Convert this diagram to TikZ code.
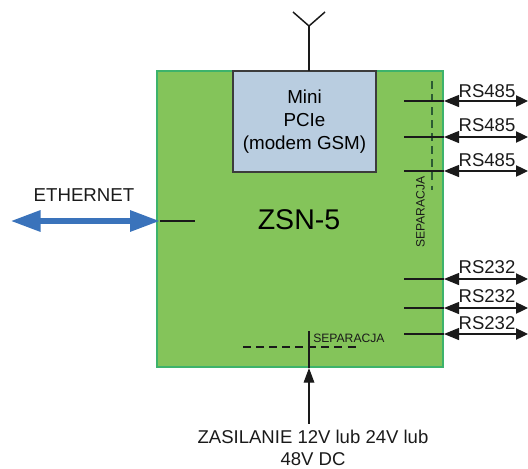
\documentclass[tikz,border=0pt]{standalone}
\usepackage{fontspec}
\setmainfont{Liberation Sans}
\usetikzlibrary{arrows.meta}
\definecolor{boardgreen}{HTML}{84C45A}
\definecolor{boardedge}{HTML}{3DB36B}
\definecolor{modblue}{HTML}{B9CDE0}
\definecolor{ethblue}{HTML}{3A73BB}
\definecolor{inkblack}{HTML}{1A1A1A}
\definecolor{sepgreen}{HTML}{2C5A34}
\tikzset{
  board/.style={draw=boardedge,fill=boardgreen,line width=1pt,minimum width=214.5pt,minimum height=222pt,inner sep=0pt},
  modem/.style={draw=inkblack!85,fill=modblue,line width=1pt,minimum width=107.25pt,minimum height=75.75pt,inner sep=0pt,align=center,font=\fontsize{14.1pt}{17pt}\selectfont},
  wire/.style={draw=inkblack,line width=0.9pt},
  sep/.style={draw=inkblack,line width=0.8pt,dash pattern=on 6pt off 3.8pt},
  bus/.style={draw=inkblack,line width=0.9pt,{Triangle[length=11.25pt,width=9pt]}-{Triangle[length=9pt,width=8.5pt]}},
  lab/.style={inner sep=0pt,font=\fontsize{13.9pt}{16pt}\selectfont,text=inkblack},
  small/.style={inner sep=0pt,font=\fontsize{9.1pt}{11pt}\selectfont,text=inkblack},
}
\begin{document}
\begin{tikzpicture}[x=0.75pt,y=-0.75pt]
\useasboundingbox (0,0) rectangle (528,468);
\node[board] (brd) at (300,219) {};
\node[modem] (mod) at (304.5,121.5) {Mini\\PCIe\\(modem GSM)};
\node[inner sep=0pt,font=\fontsize{21.4pt}{24pt}\selectfont] (zsn) at (299,220) {ZSN-5};

% antenna
\coordinate (antbase) at (309,71);
\coordinate (anttop) at (309,26);
\coordinate (antl) at (293,12);
\coordinate (antr) at (325,12);
\draw[wire,line width=1.1pt] (antbase) -- (anttop);
\draw[wire,line width=1.1pt] (antl) -- (anttop) -- (antr);

% separators
\coordinate (sv1) at (432,81);
\coordinate (sv2) at (432,190);
\draw[sep,draw=sepgreen] (sv1) -- (sv2);
\coordinate (sh1) at (243,347);
\coordinate (sh2) at (358,347);
\draw[sep] (sh1) -- (sh2);
\node[small,rotate=90] (sepv) at (420.5,212) {SEPARACJA};
\node[small,anchor=west] (seph) at (313,338) {SEPARACJA};

% serial ports
\foreach \n/\y/\ly/\t in {a/101/91/RS485,b/137/125/RS485,c/171/160/RS485,d/279/267/RS232,e/308/296/RS232,f/334/323/RS232}{
  \coordinate (in\n) at (404,\y);
  \coordinate (edge\n) at (444,\y);
  \coordinate (out\n) at (528,\y);
  \draw[wire] (in\n) -- (edge\n);
  \draw[bus] (edge\n) -- (out\n);
  \node[lab] (lab\n) at (487,\ly) {\t};
}

% ethernet
\coordinate (ethl) at (10.5,221);
\coordinate (ethr) at (160,221);
\coordinate (ethin) at (195,221);
\draw[ethblue,line width=4.5pt,{Triangle[length=22.5pt,width=15pt]}-{Triangle[length=22.5pt,width=15pt]}] (ethl) -- (ethr);
\draw[wire] (ethr) -- (ethin);
\node[lab,font=\fontsize{14pt}{16pt}\selectfont] (eth) at (84,195) {ETHERNET};

% power
\coordinate (pwrin) at (309,331);
\coordinate (pwrsrc) at (309,424);
\draw[wire,{Triangle[length=11pt,width=8pt]}-] (309,368) -- (pwrsrc);
\draw[wire] (pwrin) -- (309,368);
\node[lab,align=center] (pwr) at (313,448) {ZASILANIE 12V lub 24V lub\\48V DC};
\end{tikzpicture}
\end{document}
